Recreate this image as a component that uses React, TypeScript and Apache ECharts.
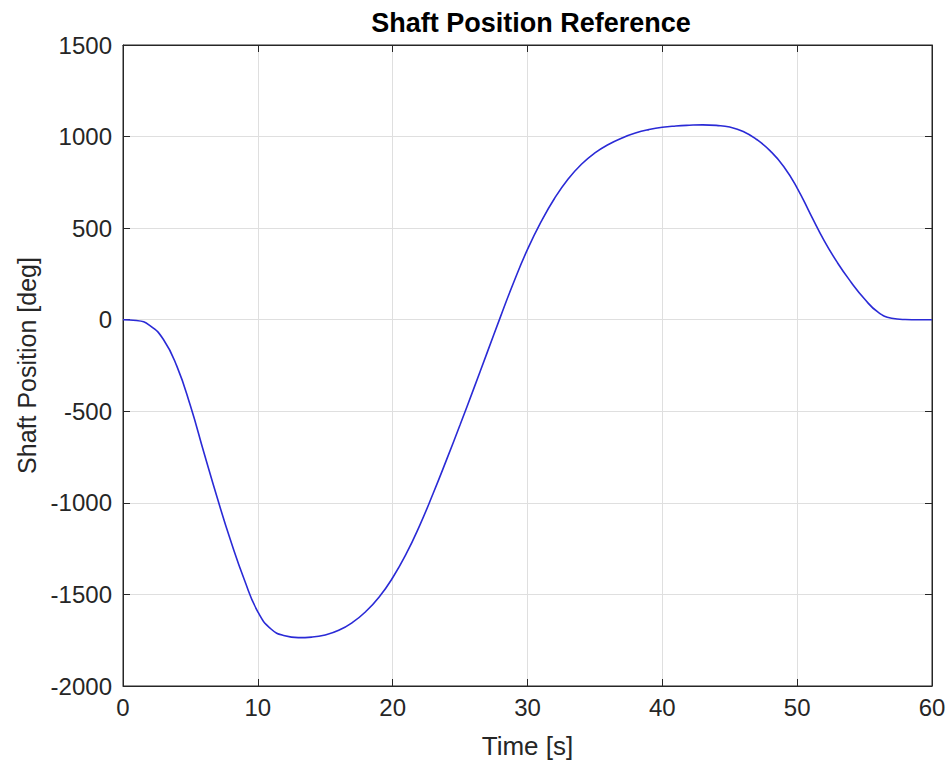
import React, { useEffect, useRef } from "react";
import * as echarts from "echarts";

// Reference trajectory sampled once per second
const timeS: number[] = [
  0, 1, 2, 3, 4, 5, 6, 7, 8, 9, 10, 11, 12, 13, 14, 15, 16, 17, 18, 19, 20,
  21, 22, 23, 24, 25, 26, 27, 28, 29, 30, 31, 32, 33, 34, 35, 36, 37, 38, 39, 40,
  41, 42, 43, 44, 45, 46, 47, 48, 49, 50, 51, 52, 53, 54, 55, 56, 57, 58, 59, 60,
];
const positionDeg: number[] = [
  0, -4, -32, -108, -255, -470, -725, -975, -1210, -1420, -1595,
  -1690, -1726, -1736, -1733, -1721, -1696, -1654, -1594, -1514, -1409,
  -1279, -1124, -949, -764, -574, -379, -181, 17, 209, 384,
  534, 662, 767, 849, 911, 957, 992, 1019, 1038, 1051,
  1058, 1062, 1064, 1061, 1052, 1028, 984, 922, 837, 719,
  574, 432, 310, 205, 113, 41, 8, 1, 0, 0,
];
const xTicks = [0, 10, 20, 30, 40, 50, 60];
const yTicks = [-2000, -1500, -1000, -500, 0, 500, 1000, 1500];

const FONT = "'Liberation Sans', Arial, Helvetica, sans-serif";
const AXIS_COLOR = "#262626";
const GRID_COLOR = "#dfdfdf";

export default function App() {
  const ref = useRef<HTMLDivElement>(null);

  useEffect(() => {
    if (!ref.current) return;
    const chart = echarts.init(ref.current, undefined, { renderer: "svg" });
    const data = timeS.map((t, i) => [t, positionDeg[i]]);

    const axisLine = { show: true, onZero: false, lineStyle: { color: AXIS_COLOR, width: 1 } };
    const tick = { show: true, inside: true, length: 7, lineStyle: { color: AXIS_COLOR } };
    const plain = (v: number) => String(v);
    const xRange = { min: xTicks[0], max: xTicks[xTicks.length - 1], interval: 10 };
    const yRange = { min: yTicks[0], max: yTicks[yTicks.length - 1], interval: 500 };

    chart.setOption({
      animation: false,
      backgroundColor: "#ffffff",
      title: {
        text: "Shaft Position Reference",
        left: 526,
        top: 4,
        textAlign: "center",
        textStyle: { fontFamily: FONT, fontSize: 27, fontWeight: "bold", color: "#000" },
      },
      grid: {
        left: 123, right: 17, top: 45, bottom: 81, containLabel: false,
        show: true, borderColor: AXIS_COLOR, borderWidth: 1, backgroundColor: "transparent",
      },
      xAxis: [
        {
          type: "value",
          ...xRange,
          position: "bottom",
          name: "Time [s]",
          nameLocation: "middle",
          nameGap: 47,
          nameTextStyle: { fontFamily: FONT, fontSize: 26, color: AXIS_COLOR },
          axisLine,
          axisTick: tick,
          axisLabel: { fontFamily: FONT, fontSize: 24, color: AXIS_COLOR, margin: 9, formatter: plain },
          splitLine: { show: true, lineStyle: { color: GRID_COLOR, width: 1 } },
        },
        {
          type: "value",
          ...xRange,
          position: "top",
          axisLine,
          axisTick: tick,
          axisLabel: { show: false },
          splitLine: { show: false },
        },
      ],
      yAxis: [
        {
          type: "value",
          ...yRange,
          position: "left",
          name: "Shaft Position [deg]",
          nameLocation: "middle",
          nameGap: 78,
          nameTextStyle: { fontFamily: FONT, fontSize: 25, color: AXIS_COLOR },
          axisLine,
          axisTick: tick,
          axisLabel: { fontFamily: FONT, fontSize: 24, color: AXIS_COLOR, margin: 11, formatter: plain },
          splitLine: { show: true, lineStyle: { color: GRID_COLOR, width: 1 } },
        },
        {
          type: "value",
          ...yRange,
          position: "right",
          axisLine,
          axisTick: tick,
          axisLabel: { show: false },
          splitLine: { show: false },
        },
      ],
      series: [
        {
          type: "line",
          xAxisIndex: 0,
          yAxisIndex: 0,
          data,
          showSymbol: false,
          smooth: 0.5,
          lineStyle: { color: "#2a2ad6", width: 1.6 },
        },
        {
          // binds the top/right box axes so their ticks are drawn
          type: "line",
          xAxisIndex: 1,
          yAxisIndex: 1,
          data,
          showSymbol: false,
          silent: true,
          lineStyle: { opacity: 0 },
        },
      ],
    });

    return () => chart.dispose();
  }, []);

  return <div ref={ref} style={{ width: 949, height: 767, position: "absolute", left: 0, top: 0 }} />;
}
